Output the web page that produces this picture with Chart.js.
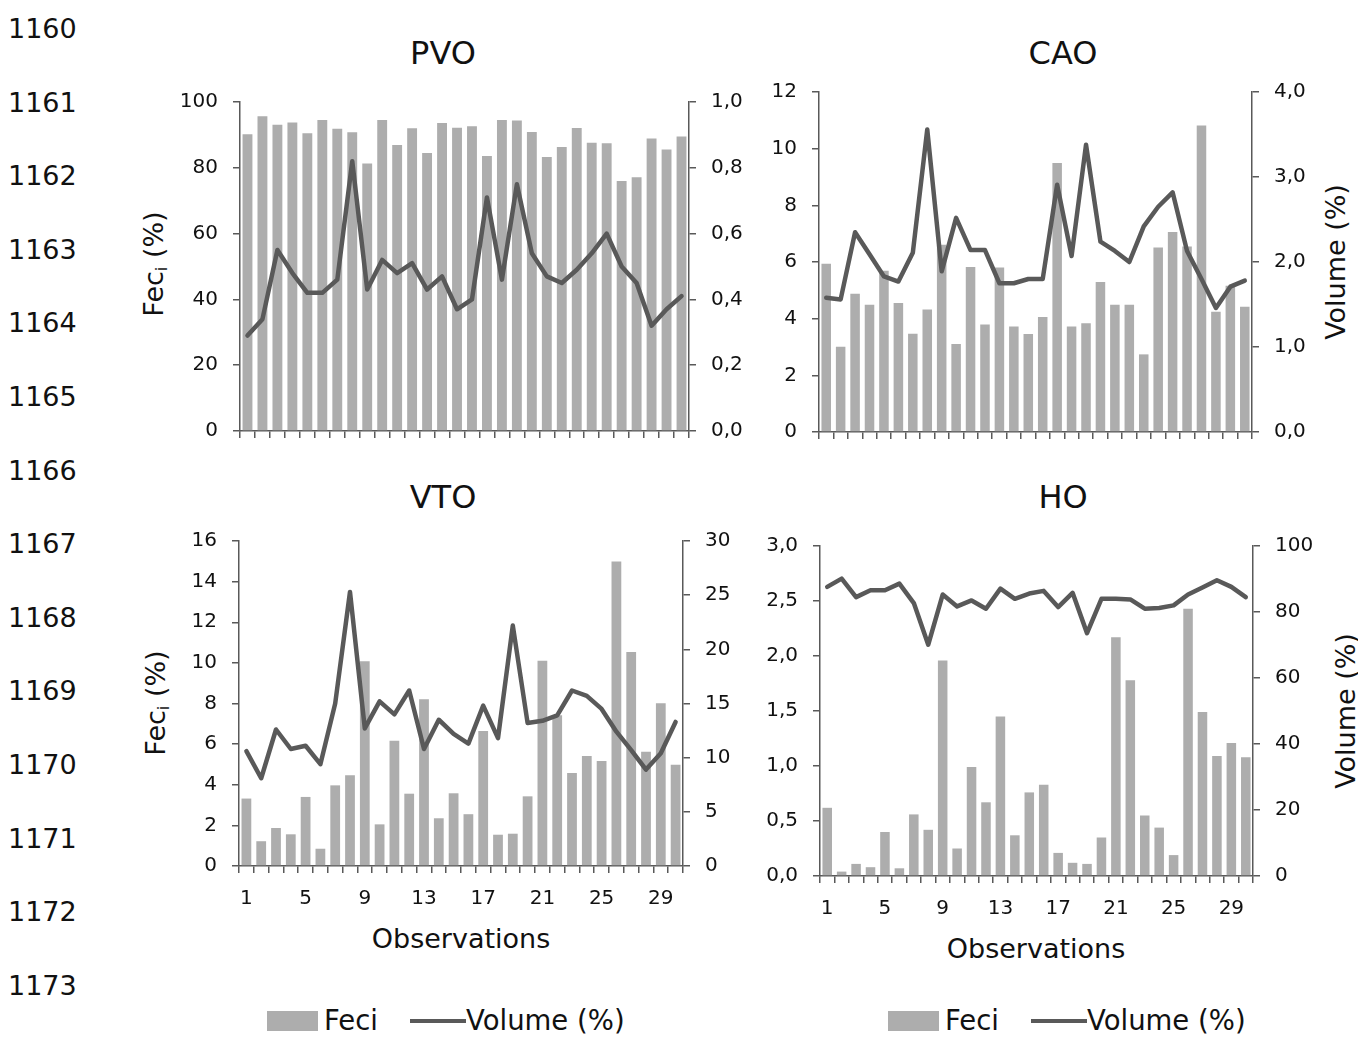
<!DOCTYPE html>
<html>
<head>
<meta charset="utf-8">
<script src="https://cdn.jsdelivr.net/npm/chart.js@4.4.1/dist/chart.umd.min.js"></script>
<style>
  body { margin: 0; background: #fff; width: 1358px; height: 1037px; position: relative; overflow: hidden;
         font-family: "DejaVu Sans", sans-serif; color: #111; }
  .box { position: absolute; }
  .txt { position: absolute; white-space: nowrap; line-height: 1; }
  .mid { transform: translate(-50%, -50%); }
  .rot { transform: translate(-50%, -50%) rotate(-90deg); }
  .lineno { position: absolute; left: 8px; font-size: 27px; line-height: 1; transform: translateY(-50%); color: #111; }
  sub { font-size: 0.6em; vertical-align: -0.25em; }
</style>
</head>
<body>

<div id="linenos"></div>

<div class="txt mid" style="left:443px; top:53px; font-size:32px;">PVO</div>
<div class="txt mid" style="left:1063px; top:53px; font-size:32px;">CAO</div>
<div class="txt mid" style="left:443px; top:497px; font-size:32px;">VTO</div>
<div class="txt mid" style="left:1063px; top:497px; font-size:32px;">HO</div>

<div class="txt rot" style="left:155px; top:264px; font-size:27px;">Fec<sub>i</sub> (%)</div>
<div class="txt rot" style="left:157px; top:703px; font-size:27px;">Fec<sub>i</sub> (%)</div>
<div class="txt rot" style="left:1335px; top:262px; font-size:27px;">Volume (%)</div>
<div class="txt rot" style="left:1345px; top:711px; font-size:27px;">Volume (%)</div>

<div class="txt mid" style="left:461px; top:938px; font-size:27px;">Observations</div>
<div class="txt mid" style="left:1036px; top:948px; font-size:27px;">Observations</div>

<div class="box" style="left:125px; top:72px; width:640px; height:390px;"><canvas id="pvo"></canvas></div>
<div class="box" style="left:705px; top:62px; width:600px; height:400px;"><canvas id="cao"></canvas></div>
<div class="box" style="left:125px; top:511px; width:630px; height:404px;"><canvas id="vto"></canvas></div>
<div class="box" style="left:705px; top:516px; width:640px; height:409px;"><canvas id="ho"></canvas></div>

<div id="legends"></div>

<script>
const observations = ["1","2","3","4","5","6","7","8","9","10","11","12","13","14","15",
  "16","17","18","19","20","21","22","23","24","25","26","27","28","29","30"];
const shownObs = ["1","5","9","13","17","21","25","29"];
const lineNumbers = ["1160","1161","1162","1163","1164","1165","1166","1167","1168","1169","1170","1171","1172","1173"];

const pvoFeci = [90.2, 95.7, 93.1, 93.8, 90.5, 94.5, 91.9, 90.8, 81.3, 94.5, 86.9, 92.0, 84.5, 93.6, 92.2,
  92.6, 83.6, 94.5, 94.4, 90.9, 83.3, 86.3, 92.1, 87.6, 87.5, 76.0, 77.1, 88.9, 85.6, 89.5];
const pvoVolume = [0.29, 0.34, 0.55, 0.48, 0.42, 0.42, 0.46, 0.82, 0.43, 0.52, 0.48, 0.51, 0.43, 0.47, 0.37,
  0.40, 0.71, 0.46, 0.75, 0.54, 0.47, 0.45, 0.49, 0.54, 0.60, 0.50, 0.45, 0.32, 0.37, 0.41];

const caoFeci = [5.94, 3.01, 4.88, 4.49, 5.69, 4.55, 3.47, 4.32, 6.61, 3.11, 5.82, 3.79, 5.81, 3.72, 3.46,
  4.06, 9.49, 3.72, 3.84, 5.29, 4.49, 4.49, 2.74, 6.51, 7.06, 6.55, 10.82, 4.24, 5.16, 4.42];
const caoVolume = [1.58, 1.56, 2.35, 2.09, 1.83, 1.77, 2.11, 3.56, 1.89, 2.52, 2.14, 2.14, 1.75, 1.75, 1.80,
  1.80, 2.91, 2.07, 3.38, 2.24, 2.13, 2.00, 2.42, 2.65, 2.82, 2.13, 1.80, 1.46, 1.71, 1.78];

const vtoFeci = [3.32, 1.22, 1.87, 1.56, 3.40, 0.85, 3.97, 4.47, 10.08, 2.05, 6.17, 3.56, 8.21, 2.35, 3.58,
  2.55, 6.65, 1.54, 1.59, 3.43, 10.10, 7.42, 4.58, 5.42, 5.17, 14.99, 10.53, 5.62, 8.01, 4.99];
const vtoVolume = [10.6, 8.1, 12.6, 10.8, 11.1, 9.4, 15.0, 25.3, 12.7, 15.2, 14.0, 16.2, 10.8, 13.5, 12.2,
  11.3, 14.8, 11.8, 22.2, 13.2, 13.4, 13.9, 16.2, 15.7, 14.5, 12.4, 10.7, 8.9, 10.4, 13.3];

const hoFeci = [0.62, 0.04, 0.11, 0.08, 0.40, 0.07, 0.56, 0.42, 1.96, 0.25, 0.99, 0.67, 1.45, 0.37, 0.76,
  0.83, 0.21, 0.12, 0.11, 0.35, 2.17, 1.78, 0.55, 0.44, 0.19, 2.43, 1.49, 1.09, 1.21, 1.08];
const hoVolume = [87.6, 90.1, 84.5, 86.6, 86.6, 88.6, 82.7, 70.1, 85.3, 81.7, 83.5, 81.0, 87.1, 84.0, 85.6,
  86.4, 81.5, 85.8, 73.6, 84.0, 84.0, 83.8, 81.0, 81.2, 82.0, 85.3, 87.4, 89.6, 87.6, 84.5];

const BAR = "#adadad";
const LINE = "#595959";
const AXIS = "#595959";
const TEXT = "#111";

Chart.defaults.font.family = "DejaVu Sans";
Chart.defaults.color = TEXT;

// line numbers down the left margin
const ln = document.getElementById("linenos");
lineNumbers.forEach((n, i) => {
  ln.innerHTML += `<div class="lineno" style="top:${28 + i * 73.6}px">${n}</div>`;
});

// legends
function legend(x) {
  const el = document.getElementById("legends");
  const cy = 1021;
  el.innerHTML += `<div class="box" style="left:${x}px; top:${cy - 10}px; width:51px; height:20px; background:${BAR}"></div>`;
  el.innerHTML += `<div class="txt" style="left:${x + 57}px; top:${cy}px; font-size:27.5px; transform:translateY(-50%)">Feci</div>`;
  el.innerHTML += `<div class="box" style="left:${x + 143}px; top:${cy - 2}px; width:56px; height:4px; background:${LINE}"></div>`;
  el.innerHTML += `<div class="txt" style="left:${x + 199}px; top:${cy}px; font-size:27.5px; transform:translateY(-50%)">Volume (%)</div>`;
}
legend(267);
legend(888);

const comma = d => v => v.toFixed(d).replace(".", ",");
const int = v => String(v);

function makeChart(id, box, area, feci, volume, yl, yr, showX) {
  const padTop = area.t - box.top;
  const leftW = area.l - box.left;
  const rightW = box.left + box.width - area.r;
  const bottomH = box.top + box.height - area.b;

  const tickFont = { size: 20 };
  const grid = { drawOnChartArea: false, drawTicks: true, tickLength: 7, color: AXIS, lineWidth: 1.5 };
  const border = { display: true, color: AXIS, width: 1.5 };

  return new Chart(document.getElementById(id), {
    data: {
      labels: observations,
      datasets: [
        {
          type: "line", label: "Volume (%)", data: volume, yAxisID: "yR", order: 0,
          borderColor: LINE, borderWidth: 4.5, pointRadius: 0, tension: 0,
          borderJoinStyle: "round", borderCapStyle: "round"
        },
        {
          type: "bar", label: "Feci", data: feci, yAxisID: "yL", order: 1,
          backgroundColor: BAR, categoryPercentage: 1, barPercentage: 0.66
        }
      ]
    },
    options: {
      responsive: true,
      maintainAspectRatio: false,
      animation: false,
      layout: { padding: { top: padTop, left: 0, right: 0, bottom: 0 }, autoPadding: false },
      plugins: { legend: { display: false }, tooltip: { enabled: false }, title: { display: false } },
      scales: {
        x: {
          type: "category", offset: true,
          grid: Object.assign({ offset: true }, grid), border,
          ticks: {
            autoSkip: false, maxRotation: 0, padding: 14, font: tickFont,
            callback: function (v) {
              const lab = this.getLabelForValue(v);
              return showX && shownObs.includes(lab) ? lab : "";
            }
          },
          afterFit: s => { s.height = bottomH; }
        },
        yL: {
          position: "left", min: yl.min, max: yl.max,
          grid, border,
          ticks: { stepSize: yl.step, padding: 15, font: tickFont, callback: yl.fmt },
          afterFit: s => { s.width = leftW; }
        },
        yR: {
          position: "right", min: yr.min, max: yr.max,
          grid, border,
          ticks: { stepSize: yr.step, padding: 15, font: tickFont, callback: yr.fmt },
          afterFit: s => { s.width = rightW; }
        }
      }
    }
  });
}

makeChart("pvo", { left: 125, top: 72, width: 640, height: 390 }, { l: 240, r: 689, t: 102, b: 431 },
  pvoFeci, pvoVolume,
  { min: 0, max: 100, step: 20, fmt: int }, { min: 0, max: 1, step: 0.2, fmt: comma(1) }, false);

makeChart("cao", { left: 705, top: 62, width: 600, height: 400 }, { l: 819, r: 1252, t: 92, b: 432 },
  caoFeci, caoVolume,
  { min: 0, max: 12, step: 2, fmt: int }, { min: 0, max: 4, step: 1, fmt: comma(1) }, false);

makeChart("vto", { left: 125, top: 511, width: 630, height: 404 }, { l: 239, r: 683, t: 541, b: 866 },
  vtoFeci, vtoVolume,
  { min: 0, max: 16, step: 2, fmt: int }, { min: 0, max: 30, step: 5, fmt: int }, true);

makeChart("ho", { left: 705, top: 516, width: 640, height: 409 }, { l: 820, r: 1253, t: 546, b: 876 },
  hoFeci, hoVolume,
  { min: 0, max: 3, step: 0.5, fmt: comma(1) }, { min: 0, max: 100, step: 20, fmt: int }, true);
</script>
</body>
</html>
